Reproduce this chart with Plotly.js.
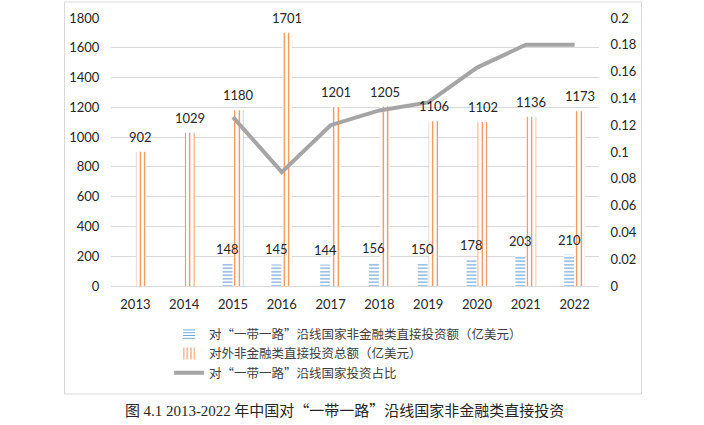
<!DOCTYPE html>
<html>
<head>
<meta charset="utf-8">
<script src="https://cdn.plot.ly/plotly-3.0.1.min.js"></script>
<style>
  html, body { margin: 0; padding: 0; background: #fff; }
  #chart { width: 704px; height: 425px; }
</style>
</head>
<body>
<div id="chart"></div>
<script>
// Data
const years = ["2013", "2014", "2015", "2016", "2017", "2018", "2019", "2020", "2021", "2022"];
const beltRoadFdi = [null, null, 148, 145, 144, 156, 150, 178, 203, 210];
const totalFdi = [902, 1029, 1180, 1701, 1201, 1205, 1106, 1102, 1136, 1173];
const ratioYears = ["2015", "2016", "2017", "2018", "2019", "2020", "2021", "2022"];
const ratio = [0.126, 0.085, 0.120, 0.131, 0.137, 0.163, 0.180, 0.180];

const numFont = "Lato, 'Noto Sans', sans-serif";
const cjkFont = "'Noto Sans CJK SC', sans-serif";

const traces = [
    {
        type: "bar",
        name: "对“一带一路”沿线国家非金融类直接投资额（亿美元）",
        x: years,
        y: beltRoadFdi,
        marker: {
            color: "#5B9BD5",
            line: {width: 0},
            pattern: {shape: "-", fgcolor: "#5B9BD5", bgcolor: "#ffffff", size: 3.5, solidity: 0.3, fillmode: "replace"}
        },
        hoverinfo: "skip"
    },
    {
        type: "bar",
        name: "对外非金融类直接投资总额（亿美元）",
        x: years,
        y: totalFdi,
        marker: {
            color: "#ED7D31",
            line: {width: 0},
            pattern: {shape: "|", fgcolor: "#ED7D31", bgcolor: "#ffffff", size: 4.5, solidity: 0.25, fillmode: "replace"}
        },
        hoverinfo: "skip"
    },
    {
        type: "scatter",
        mode: "lines",
        name: "对“一带一路”沿线国家投资占比",
        x: ratioYears,
        y: ratio,
        yaxis: "y2",
        line: {color: "#A5A5A5", width: 4},
        hoverinfo: "skip"
    }
];

// value labels above the bars (x given as category index)
const labels = [];
years.forEach((yr, i) => {
    if (beltRoadFdi[i] !== null) {
        labels.push({x: i, y: beltRoadFdi[i], text: String(beltRoadFdi[i]), xshift: -5.5, yshift: 15,
            showarrow: false, font: {family: numFont, size: 13, color: "#262626"}});
    }
    labels.push({x: i, y: totalFdi[i], text: String(totalFdi[i]), xshift: 5.5, yshift: 15,
        showarrow: false, font: {family: numFont, size: 13, color: "#262626"}});
});

labels.push({
    xref: "paper", yref: "paper", x: 0.4795, y: -0.507,
    text: "图 <span style='font-family:Liberation Serif'>4.1 2013-2022</span> 年中国对“一带一路”沿线国家非金融类直接投资",
    showarrow: false,
    font: {family: cjkFont, size: 15, color: "#262626"}
});

const layout = {
    width: 704,
    height: 425,
    margin: {l: 110.6, r: 104.6, t: 18, b: 139, pad: 0},
    paper_bgcolor: "#ffffff",
    plot_bgcolor: "#ffffff",
    barmode: "group",
    bargap: 0.55,
    bargroupgap: 0.1,
    showlegend: true,
    legend: {
        orientation: "v",
        x: 0.119, xanchor: "left",
        y: -0.125, yanchor: "top",
        font: {family: cjkFont, size: 12.5, color: "#404040"},
        bgcolor: "rgba(0,0,0,0)",
        tracegroupgap: 0
    },
    xaxis: {
        type: "category",
        range: [-0.5, 9.5],
        showgrid: false,
        showline: false,
        ticks: "outside",
        ticklen: 6,
        tickcolor: "rgba(0,0,0,0)",
        tickfont: {family: numFont, size: 13, color: "#262626"}
    },
    yaxis: {
        range: [0, 1800],
        dtick: 200,
        gridcolor: "#D9D9D9",
        zerolinecolor: "#D9D9D9",
        ticks: "outside",
        ticklen: 8,
        tickcolor: "rgba(0,0,0,0)",
        tickfont: {family: numFont, size: 13, color: "#262626"}
    },
    yaxis2: {
        overlaying: "y",
        side: "right",
        range: [0, 0.2],
        dtick: 0.02,
        showgrid: false,
        zeroline: false,
        ticks: "outside",
        ticklen: 8,
        tickcolor: "rgba(0,0,0,0)",
        tickfont: {family: numFont, size: 13, color: "#262626"}
    },
    annotations: labels,
    shapes: [{
        type: "rect", xref: "paper", yref: "paper",
        x0: -0.0953, x1: 1.0871, y0: -0.403, y1: 1.0597,
        line: {color: "#D9D9D9", width: 1},
        layer: "below"
    }]
};

Plotly.newPlot("chart", traces, layout, {staticPlot: true});
</script>
</body>
</html>
